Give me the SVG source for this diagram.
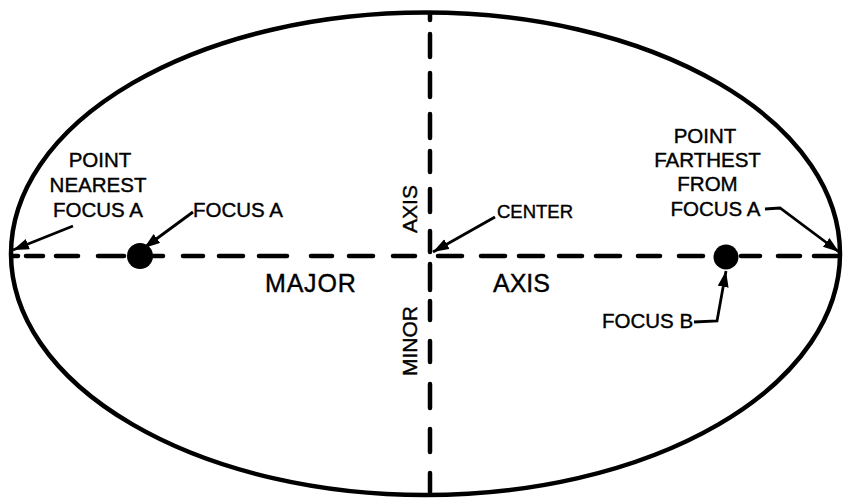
<svg xmlns="http://www.w3.org/2000/svg" width="846" height="500" viewBox="0 0 846 500">
<defs>
<style>
.t{font-family:"Liberation Sans",Arial,sans-serif;font-size:20.5px;fill:#000;stroke:#000;stroke-width:0.4px}
.m{text-anchor:middle}
.dash{stroke:#000;stroke-width:4.5;stroke-linecap:round;fill:none}
.arr{stroke:#000;stroke-width:2.8;fill:none;marker-end:url(#ah)}
</style>
<marker id="ah" markerUnits="userSpaceOnUse" markerWidth="17" markerHeight="12" refX="16" refY="5.5" orient="auto">
<path d="M0,0 L16,5.5 L0,11 Z" fill="#000"/>
</marker>
</defs>
<rect width="846" height="500" fill="#fff"/>
<g id="ellipse">
<ellipse cx="425.5" cy="253.8" rx="414.5" ry="241.3" fill="none" stroke="#000" stroke-width="4.5"/>
</g>
<g id="connectors">
<path class="dash" d="M13,256H18 M26,256H43 M56,256H78 M98,256H124 M152,256H163 M183,256H203 M219,256H243 M259,256H287 M311,256H332 M349,256H373 M393,256H415 M438,256H462 M481,256H505 M519,256H543 M559,256H582 M596,256H620 M638,256H660 M679,256H703 M741,256H760 M778,256H800 M814,256H837"/>
<path class="dash" d="M430,13V20 M430,34V57 M430,73V97 M430,114V138 M430,151V172 M430,189V212 M430,231V252 M430,264V290 M430,301V320 M430,341V362 M430,384V408 M430,429V452 M430,473V492"/>
<path class="arr" d="M73,226 L13,250"/>
<path class="arr" d="M193,212 L144,248"/>
<path class="arr" d="M495,217 L433,252"/>
<path class="arr" d="M765,209 L780,208 L839,252"/>
<path class="arr" d="M694,322 L717,321 L726,271"/>
</g>
<g id="focusA"><circle cx="140" cy="256" r="13" fill="#000"/>
<text class="t" x="193" y="217">FOCUS A</text></g>
<g id="focusB"><circle cx="726" cy="257" r="12.5" fill="#000"/>
<text class="t" x="602" y="328">FOCUS B</text></g>
<g id="nearest">
<text class="t m" x="100" y="167">POINT</text>
<text class="t m" x="98" y="192">NEAREST</text>
<text class="t m" x="98" y="217">FOCUS A</text>
</g>
<g id="farthest">
<text class="t m" x="705" y="143">POINT</text>
<text class="t m" x="707.5" y="167">FARTHEST</text>
<text class="t m" x="707.5" y="191">FROM</text>
<text class="t m" x="715.5" y="216">FOCUS A</text>
</g>
<g id="center"><text class="t" x="497" y="218" style="font-size:18.5px">CENTER</text></g>
<g id="major">
<text class="t" x="265" y="292" style="font-size:25px;letter-spacing:0.8px">MAJOR</text>
<text class="t" x="493" y="292" style="font-size:25px">AXIS</text>
</g>
<g id="minor">
<text class="t m" x="417" y="209" transform="rotate(-90 417 209)" style="font-size:21px">AXIS</text>
<text class="t m" x="417" y="341" transform="rotate(-90 417 341)" style="font-size:21px">MINOR</text>
</g>
</svg>
